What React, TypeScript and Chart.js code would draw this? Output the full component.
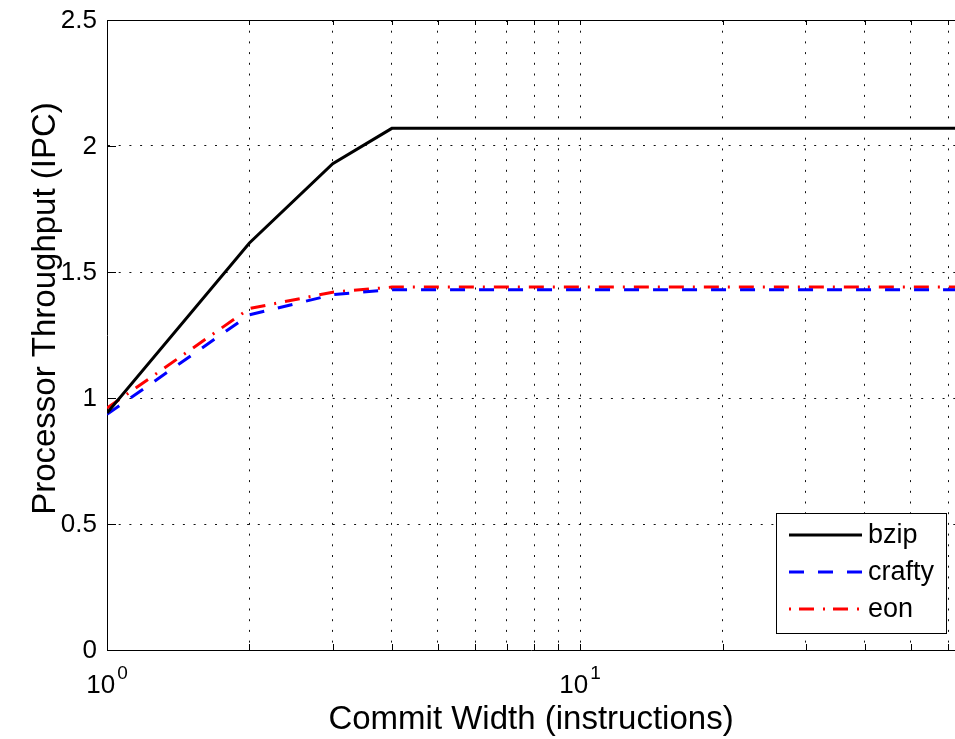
import React, { useEffect, useRef } from "react";
import { Chart, registerables } from "chart.js";

Chart.register(...registerables);

// ---- data ----
const commitWidths = [1, 2, 3, 4, 8, 16, 32, 64];
const bzip = [0.94, 1.615, 1.93, 2.07, 2.07, 2.07, 2.07, 2.07];
const crafty = [0.935, 1.33, 1.41, 1.43, 1.43, 1.43, 1.43, 1.43];
const eon = [0.96, 1.355, 1.42, 1.44, 1.44, 1.44, 1.44, 1.44];

const seriesNames = ["bzip", "crafty", "eon"];
const seriesColors = ["#000000", "#0000ff", "#ff0000"];
const seriesDashes: number[][] = [[], [15, 14], [15, 9, 2, 9]];
const legendDashes: number[][] = [[], [15, 14], [2, 8, 15, 9]];

const xTickValues = [1, 2, 3, 4, 5, 6, 7, 8, 9, 10, 20, 30, 40, 50, 60];
const xLabelTicks = [1, 10];
const xLabelBase = ["10", "10"];
const xLabelExp = ["0", "1"];
const yTickValues = [0, 0.5, 1, 1.5, 2, 2.5];
const yTickLabels = ["0", "0.5", "1", "1.5", "2", "2.5"];

const xTitle = "Commit Width (instructions)";
const yTitle = "Processor Throughput (IPC)";

const FONT = "'Liberation Sans', Arial, Helvetica, sans-serif";

const matlabPlugin = {
  id: "matlabDecor",
  afterDraw(chart: any) {
    const { ctx, chartArea, scales } = chart;
    const xs = scales.x;
    const ys = scales.y;
    const { left, right, top, bottom } = chartArea;
    ctx.save();

    // top border
    ctx.strokeStyle = "#000";
    ctx.lineWidth = 1;
    ctx.setLineDash([]);
    ctx.beginPath();
    ctx.moveTo(left, Math.round(top) + 0.5);
    ctx.lineTo(right, Math.round(top) + 0.5);
    ctx.stroke();

    // inward ticks
    ctx.beginPath();
    for (const v of xTickValues) {
      const px = Math.round(xs.getPixelForValue(v)) + 0.5;
      ctx.moveTo(px, bottom);
      ctx.lineTo(px, bottom - 6);
      ctx.moveTo(px, top);
      ctx.lineTo(px, top + 5);
    }
    for (const v of yTickValues) {
      const py = Math.round(ys.getPixelForValue(v)) + 0.5;
      ctx.moveTo(left, py);
      ctx.lineTo(left + 9, py);
    }
    ctx.stroke();

    ctx.fillStyle = "#000";
    // y tick labels
    ctx.font = `26px ${FONT}`;
    ctx.textAlign = "right";
    ctx.textBaseline = "middle";
    yTickValues.forEach((v, i) => {
      ctx.fillText(yTickLabels[i], left - 10, ys.getPixelForValue(v) + 1);
    });

    // x tick labels (10^n)
    ctx.textBaseline = "alphabetic";
    ctx.textAlign = "left";
    xLabelTicks.forEach((v, i) => {
      const px = xs.getPixelForValue(v);
      ctx.font = `26px ${FONT}`;
      const w1 = ctx.measureText(xLabelBase[i]).width;
      ctx.font = `19px ${FONT}`;
      const w2 = ctx.measureText(xLabelExp[i]).width;
      const x0 = px - (w1 + w2 + 2) / 2;
      ctx.font = `26px ${FONT}`;
      ctx.fillText(xLabelBase[i], x0, bottom + 43);
      ctx.font = `19px ${FONT}`;
      ctx.fillText(xLabelExp[i], x0 + w1 + 2, bottom + 29);
    });

    // x title
    ctx.font = `33px ${FONT}`;
    ctx.textAlign = "center";
    ctx.fillText(xTitle, (left + right) / 2, bottom + 79);

    // y title
    ctx.save();
    ctx.translate(55, top + (bottom - top) * 0.458);
    ctx.rotate(-Math.PI / 2);
    ctx.font = `33px ${FONT}`;
    ctx.textAlign = "center";
    ctx.textBaseline = "alphabetic";
    ctx.fillText(yTitle, 0, 0);
    ctx.restore();

    // legend
    const bx = right - 179;
    const by = bottom - 137;
    const bw = 170;
    const bh = 120;
    ctx.fillStyle = "#fff";
    ctx.fillRect(bx, by, bw, bh);
    ctx.strokeStyle = "#000";
    ctx.lineWidth = 1;
    ctx.strokeRect(bx + 0.5, by + 0.5, bw, bh);
    seriesNames.forEach((name, i) => {
      const ly = by + 22 + i * 37;
      ctx.save();
      ctx.strokeStyle = seriesColors[i];
      ctx.lineWidth = 3;
      ctx.setLineDash(legendDashes[i]);
      ctx.beginPath();
      ctx.moveTo(bx + 13, ly);
      ctx.lineTo(bx + 86, ly);
      ctx.stroke();
      ctx.restore();
      ctx.fillStyle = "#000";
      ctx.font = `27px ${FONT}`;
      ctx.textAlign = "left";
      ctx.textBaseline = "middle";
      ctx.fillText(name, bx + 92, ly + 1);
    });

    ctx.restore();
  },
};

export default function App() {
  const canvasRef = useRef<HTMLCanvasElement | null>(null);

  useEffect(() => {
    if (!canvasRef.current) return;
    const seriesData = [bzip, crafty, eon];
    const chart = new Chart(canvasRef.current, {
      type: "line",
      data: {
        datasets: seriesNames.map((name, i) => ({
          label: name,
          data: commitWidths.map((x, j) => ({ x, y: seriesData[i][j] })),
          borderColor: seriesColors[i],
          backgroundColor: seriesColors[i],
          borderWidth: 3,
          borderDash: seriesDashes[i],
          pointRadius: 0,
          tension: 0,
          fill: false,
        })),
      },
      options: {
        animation: false,
        responsive: false,
        maintainAspectRatio: false,
        devicePixelRatio: 1,
        layout: { padding: { left: 107, top: 20, right: 0, bottom: 89 } },
        plugins: { legend: { display: false }, tooltip: { enabled: false } },
        scales: {
          x: {
            type: "logarithmic",
            min: 1,
            max: 62,
            afterBuildTicks: (axis: any) => {
              axis.ticks = xTickValues.map((v) => ({ value: v }));
            },
            ticks: { display: false },
            grid: { color: "#111", lineWidth: 1, drawTicks: false, tickLength: 0 },
            border: { display: true, color: "#000", width: 1, dash: [2, 8.7] },
          },
          y: {
            type: "linear",
            min: 0,
            max: 2.5,
            afterBuildTicks: (axis: any) => {
              axis.ticks = yTickValues.map((v) => ({ value: v }));
            },
            ticks: { display: false },
            grid: { color: "#111", lineWidth: 1, drawTicks: false, tickLength: 0 },
            border: { display: true, color: "#000", width: 1, dash: [2, 8.7] },
          },
        },
      },
      plugins: [matlabPlugin],
    } as any);
    return () => chart.destroy();
  }, []);

  return (
    <div style={{ position: "absolute", left: 0, top: 0, width: 955, height: 739, background: "#fff" }}>
      <canvas ref={canvasRef} width={955} height={739} style={{ display: "block" }} />
    </div>
  );
}
